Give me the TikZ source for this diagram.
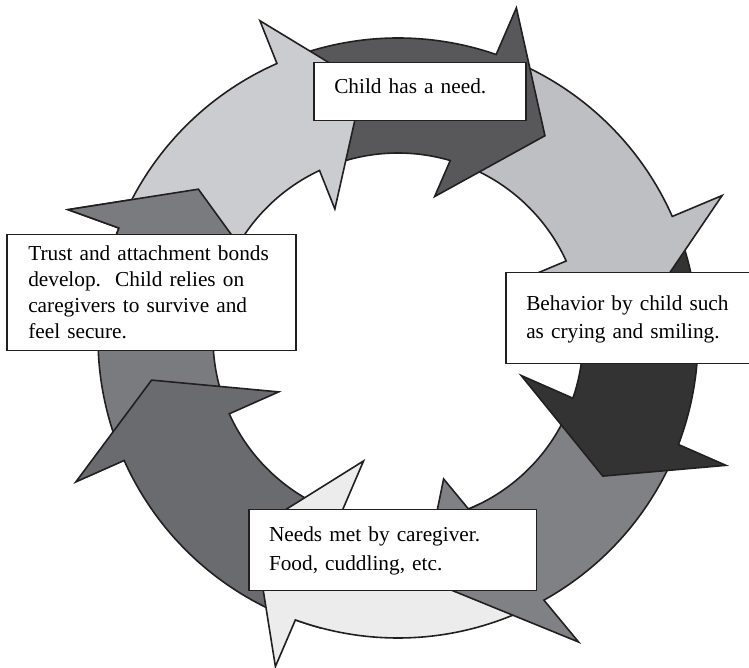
\documentclass[tikz,border=0pt]{standalone}
\usepackage{fontspec}
\setmainfont{Liberation Serif}
\usetikzlibrary{calc}

\definecolor{outline}{HTML}{231F20}
\definecolor{lightA}{HTML}{CBCCCF}
\definecolor{lightB}{HTML}{BEBFC2}
\definecolor{lightC}{HTML}{ECECEC}
\definecolor{darkA}{HTML}{58585B}
\definecolor{darkB}{HTML}{6A6B6F}
\definecolor{darkC}{HTML}{333333}
\definecolor{midA}{HTML}{7A7B7F}
\definecolor{midB}{HTML}{808185}

\def\Rin{185}
\def\Rout{300}
% tail, outer notch, inner notch, tip angle, tip radius, fill, outer barb, inner barb
\newcommand{\cyclearrow}[8]{%
  \filldraw[ringarrow, fill=#6]
    (#1:\Rout) arc[start angle=#1, end angle=#2, radius=\Rout pt]
    -- ($(#3:\Rin)!#7!(#2:\Rout)$)
    -- (#4:#5)
    -- ($(#2:\Rout)!#8!(#3:\Rin)$)
    -- (#3:\Rin) arc[start angle=#3, end angle=#1, radius=\Rin pt]
    -- cycle;}

\begin{document}
\begin{tikzpicture}[x=1pt, y=1pt,
    ringarrow/.style={draw=outline, line width=1.6pt},
    textbox/.style={draw=outline, line width=1.5pt, fill=white, align=left,
      inner sep=0pt, anchor=north west, text height=15pt}]
  \useasboundingbox (0,0) rectangle (749,668);

  \begin{scope}[shift={(398,330)}]
    \cyclearrow{201}{158.5}{157.5}{143.3}{249}{midA}{1.47}{1.35}
    \cyclearrow{255}{204.1}{204.2}{189.7}{250}{darkB}{1.46}{1.47}
    \cyclearrow{296}{250}{252}{233}{240}{lightC}{1.44}{1.5}
    \cyclearrow{338}{299.1}{292.4}{276}{242}{midB}{1.46}{1.33}
    \cyclearrow{22}{-20.8}{-19}{-34}{247}{darkC}{1.45}{1.49}
    \cyclearrow{67}{23.9}{24.6}{7}{250}{lightB}{1.47}{1.4}
    \cyclearrow{111}{70.9}{73.6}{54}{250}{darkA}{1.44}{1.34}
    \cyclearrow{156}{113.8}{115.1}{97.8}{257}{lightA}{1.4}{1.36}
    % head of the first arrow lies over the tail of the last one
    \begin{scope}
      \clip (0,0) -- (133:420) -- (150:500) -- (172:420) -- cycle;
      \cyclearrow{201}{158.5}{157.5}{143.3}{249}{midA}{1.47}{1.35}
    \end{scope}
  \end{scope}

  \node[textbox, text width=171pt, minimum width=212pt, minimum height=58pt,
    text depth=11pt, font=\fontsize{21.3}{26}\selectfont] (need) at (313,606)
    {Child has a need.};
  \node[textbox, text width=224pt, minimum width=265pt, minimum height=91pt,
    text depth=30pt, font=\fontsize{21.3}{28}\selectfont] (behavior) at (505,396)
    {Behavior by child such\\as crying and smiling.};
  \node[textbox, text width=247pt, minimum width=287.5pt, minimum height=81pt,
    text depth=32pt, font=\fontsize{21.3}{29}\selectfont] (needsmet) at (248,159)
    {Needs met by caregiver.\\Food, cuddling, etc.};
  \node[textbox, text width=246pt, minimum width=289pt, minimum height=116pt,
    text depth=79pt, font=\fontsize{21.3}{26}\selectfont] (trust) at (6,434)
    {\mbox{Trust and attachment bonds}\\develop.\ \ Child relies on\\caregivers to survive and\\feel secure.};
\end{tikzpicture}
\end{document}
